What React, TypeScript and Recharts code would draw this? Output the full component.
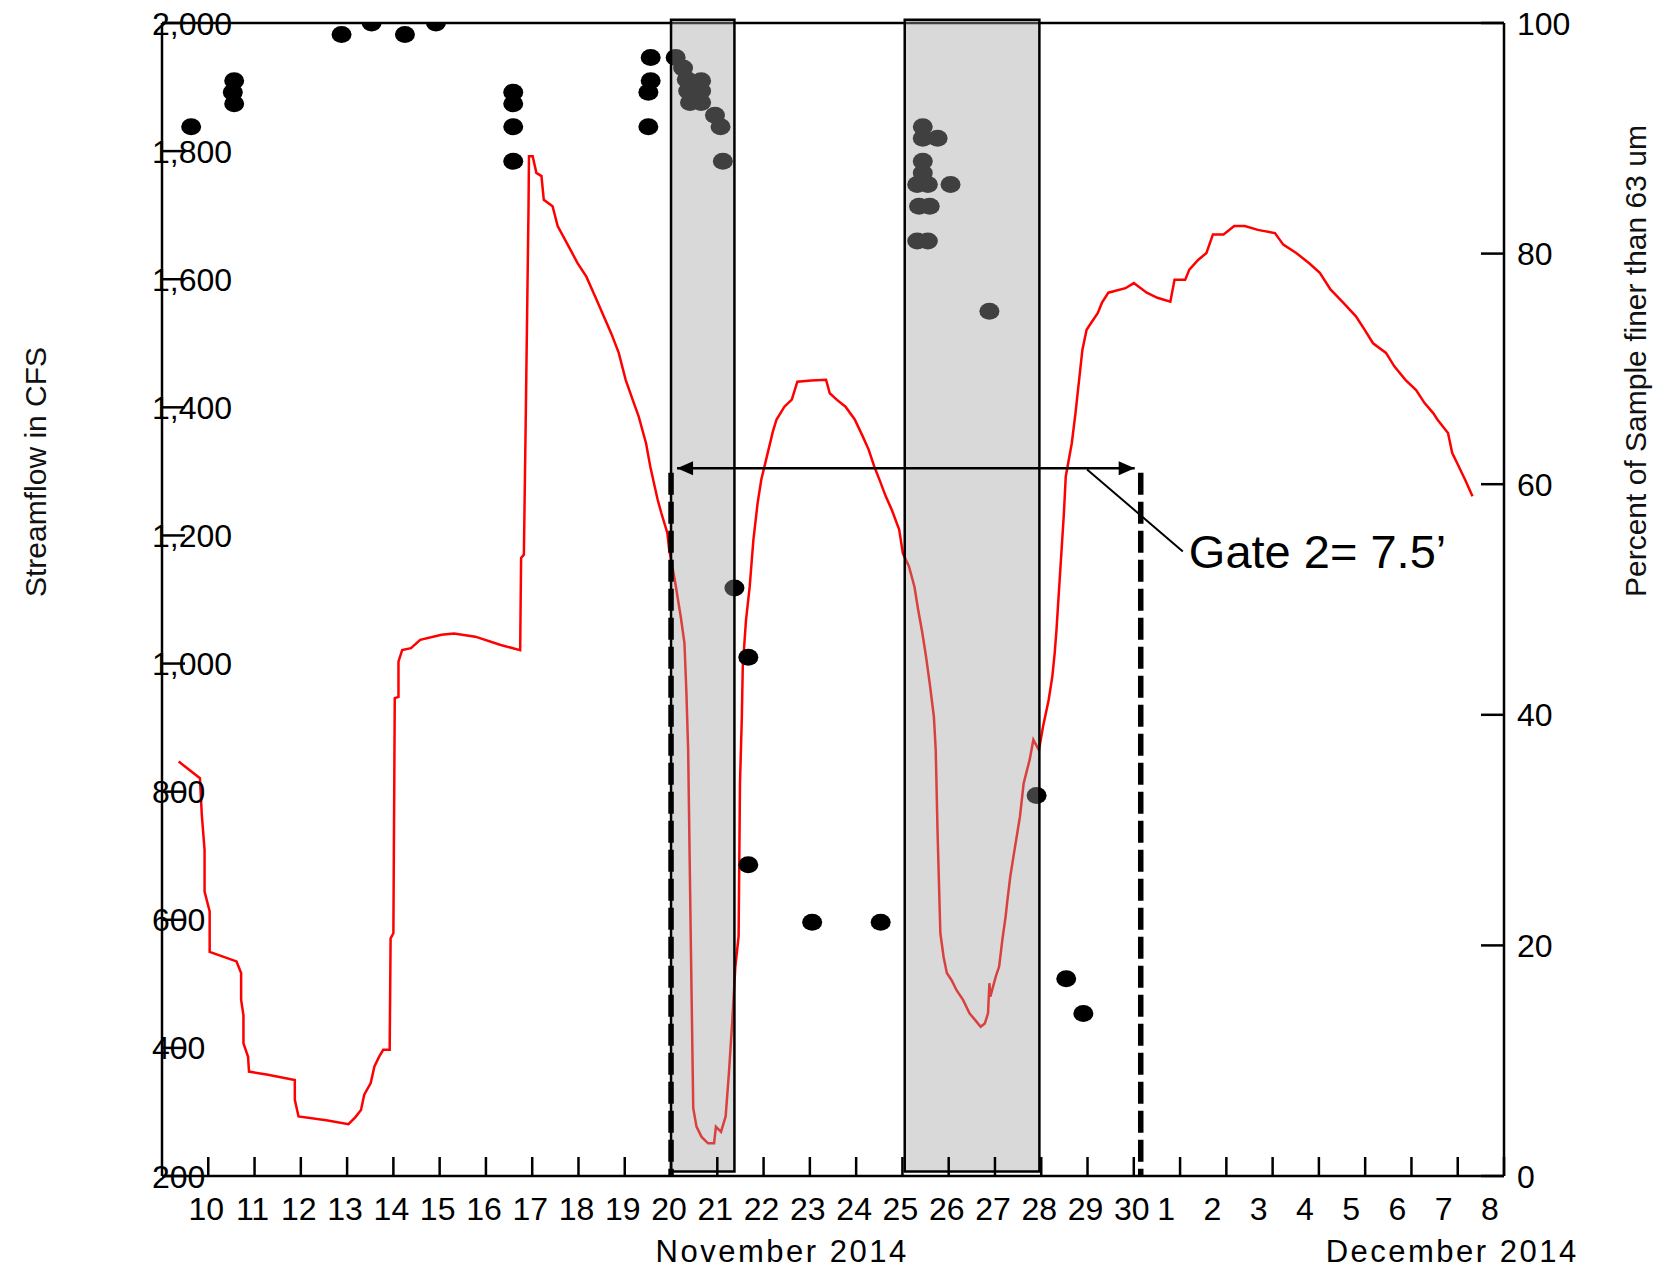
import React from 'react';
import { ComposedChart, Line, Scatter, XAxis, YAxis, ReferenceArea, ReferenceLine, ReferenceDot } from 'recharts';

const FONT = "'Liberation Sans', Arial, sans-serif";

// x values are days counted from Oct 31 (Nov d -> d, Dec d -> 30 + d)
const dayTicks = [10, 11, 12, 13, 14, 15, 16, 17, 18, 19, 20, 21, 22, 23, 24, 25, 26, 27, 28, 29, 30, 31, 32, 33, 34, 35, 36, 37, 38];
const dayLabels = ['10', '11', '12', '13', '14', '15', '16', '17', '18', '19', '20', '21', '22', '23', '24', '25', '26', '27', '28', '29', '30', '1', '2', '3', '4', '5', '6', '7', '8'];
const cfsTicks = [200, 400, 600, 800, 1000, 1200, 1400, 1600, 1800, 2000];
const pctTicks = [0, 20, 40, 60, 80, 100];

const flowDays = [
  9.36, 9.82, 9.86, 9.92, 9.92, 10.03, 10.03, 10.61, 10.71, 10.71, 10.76, 10.76, 10.86, 10.88, 11.29, 11.87, 11.87, 11.95,
  12.55, 13.03, 13.18, 13.3, 13.37, 13.51, 13.59, 13.69, 13.78, 13.92, 13.94, 14.0, 14.03, 14.11, 14.11, 14.19, 14.38, 14.58,
  15.04, 15.31, 15.77, 16.32, 16.74, 16.76, 16.82, 16.86, 16.92, 16.93, 17.01, 17.09, 17.2, 17.25, 17.44, 17.55, 17.79, 17.98,
  18.17, 18.36, 18.56, 18.71, 18.87, 19.02, 19.17, 19.3, 19.46, 19.55, 19.63, 19.71, 19.79, 19.92, 19.96, 20.08, 20.21, 20.29,
  20.33, 20.37, 20.4, 20.43, 20.48, 20.55, 20.66, 20.8, 20.93, 20.97, 21.08, 21.18, 21.25, 21.32, 21.39, 21.46, 21.49, 21.53,
  21.55, 21.62, 21.7, 21.74, 21.78, 21.87, 21.95, 22.07, 22.2, 22.28, 22.45, 22.61, 22.73, 23.03, 23.35, 23.43, 23.58, 23.77,
  23.97, 24.14, 24.27, 24.39, 24.52, 24.64, 24.77, 24.93, 25.01, 25.14, 25.26, 25.34, 25.43, 25.51, 25.59, 25.68, 25.72, 25.76,
  25.82, 25.89, 25.96, 26.06, 26.17, 26.31, 26.45, 26.6, 26.69, 26.78, 26.85, 26.88, 26.9, 27.02, 27.09, 27.16, 27.23, 27.27,
  27.33, 27.4, 27.54, 27.62, 27.75, 27.83, 27.95, 28.04, 28.16, 28.24, 28.29, 28.33, 28.37, 28.43, 28.49, 28.53, 28.66, 28.74,
  28.85, 28.89, 28.98, 29.08, 29.22, 29.31, 29.45, 29.82, 30.0, 30.28, 30.51, 30.79, 30.88, 31.11, 31.2, 31.39, 31.57, 31.71,
  31.94, 32.17, 32.4, 32.68, 33.05, 33.23, 33.51, 33.79, 34.02, 34.25, 34.53, 34.8, 34.99, 35.17, 35.45, 35.63, 35.87, 36.1,
  36.28, 36.47, 36.56, 36.79, 36.88, 37.02, 37.16, 37.29, 37.32,
];
const flowCfs = [
  847, 821, 764, 709, 644, 613, 550, 535, 517, 475, 451, 407, 386, 363, 358, 350, 319, 293,
  287, 281, 292, 303, 327, 345, 371, 386, 397, 397, 571, 579, 946, 948, 1003, 1021, 1024, 1037,
  1045, 1047, 1042, 1029, 1021, 1165, 1170, 1381, 1709, 1792, 1792, 1766, 1761, 1724, 1714, 1683, 1651, 1625,
  1604, 1573, 1540, 1515, 1485, 1443, 1412, 1386, 1344, 1308, 1282, 1256, 1235, 1204, 1178, 1131, 1073, 1032,
  959, 865, 709, 553, 306, 277, 261, 251, 251, 277, 269, 293, 360, 438, 527, 574, 813, 917,
  995, 1068, 1120, 1157, 1193, 1250, 1287, 1323, 1362, 1381, 1401, 1412, 1440, 1442, 1443, 1422, 1412, 1401,
  1381, 1355, 1334, 1308, 1284, 1261, 1240, 1209, 1172, 1152, 1120, 1084, 1048, 1011, 969, 917, 865, 735,
  579, 542, 517, 506, 490, 475, 454, 441, 433, 438, 454, 501, 480, 512, 527, 569, 605, 631,
  667, 699, 761, 813, 850, 881, 865, 902, 943, 980, 1016, 1053, 1099, 1167, 1235, 1292, 1344, 1391,
  1464, 1490, 1521, 1532, 1547, 1563, 1579, 1586, 1594, 1579, 1571, 1565, 1599, 1599, 1615, 1630, 1641, 1670,
  1670, 1683, 1683, 1677, 1672, 1654, 1641, 1625, 1610, 1584, 1563, 1542, 1521, 1500, 1485, 1464, 1443, 1427,
  1407, 1391, 1381, 1360, 1329, 1308, 1287, 1266, 1261,
];

const sampleDays = [
  9.63, 10.56, 10.53, 10.56, 12.88, 13.53, 14.25, 14.92, 16.59, 16.59, 16.59, 16.59,
  19.56, 19.56, 19.51, 19.51, 20.1, 20.26, 20.34, 20.65, 20.37, 20.65, 20.41, 20.65, 20.95, 21.07, 21.12,
  21.37, 21.67, 21.67, 23.05, 24.53,
  25.44, 25.44, 25.76, 25.44, 25.44, 25.32, 25.55, 26.04, 25.36, 25.59, 25.32, 25.55, 26.88,
  27.9, 28.54, 28.91,
];
const samplePct = [
  91, 95, 94, 93, 99, 100, 99, 100, 94, 93, 91, 88,
  97, 95, 94, 91, 97, 96.1, 95.1, 95, 94.1, 94.1, 93.1, 93.1, 92, 91, 88,
  51, 45, 27, 22, 22,
  91, 90, 90, 88, 87, 86, 86, 86, 84.1, 84.1, 81.1, 81.1, 75,
  33, 17.1, 14.1,
];

const shadedStart = [20.0, 25.05];
const shadedEnd = [21.37, 27.96];
const gateDays = [20.0, 30.15];
const gateTop = 1298;
const arrowDays = [20.13, 30.02];
const arrowCfs = 1305;

const flowData = flowDays.map((x, i) => ({ x, cfs: flowCfs[i] }));
const sampleData = sampleDays.map((x, i) => ({ x, pct: samplePct[i] }));

const fmtCfs = (v: number) => (v >= 1000 ? `${Math.floor(v / 1000)},${String(v % 1000).padStart(3, '0')}` : String(v));

function BottomTick({ x, y, payload }: any) {
  const label = dayLabels[dayTicks.indexOf(payload.value)];
  const dx = payload.value > 30 ? -14 : -2;
  return (
    <g>
      <line x1={x} y1={y} x2={x} y2={y - 19} stroke="#000" strokeWidth={2.5} />
      <text x={x + dx} y={y + 44} textAnchor="middle" fontSize={32} fontFamily={FONT} fill="#000">
        {label}
      </text>
    </g>
  );
}

function TopTick({ x, y }: any) {
  return <line x1={x} y1={y} x2={x} y2={y + 19} stroke="#000" strokeWidth={2.5} />;
}

function LeftTick({ x, y, payload }: any) {
  return (
    <g>
      <line x1={x} y1={y} x2={x + 23} y2={y} stroke="#000" strokeWidth={2.5} />
      <text x={x - 10} y={y} dy="0.36em" textAnchor="start" fontSize={32} fontFamily={FONT} fill="#000">
        {fmtCfs(payload.value)}
      </text>
    </g>
  );
}

function RightTick({ x, y, payload }: any) {
  return (
    <g>
      <line x1={x} y1={y} x2={x - 23} y2={y} stroke="#000" strokeWidth={2.5} />
      <text x={x + 13} y={y} dy="0.36em" textAnchor="start" fontSize={32} fontFamily={FONT} fill="#000">
        {payload.value}
      </text>
    </g>
  );
}

const SampleDot = (props: any) => <ellipse cx={props.cx} cy={props.cy} rx={10} ry={8.5} fill="#000" />;

const arrowLeft = (p: any) => (
  <polygon points={`${p.cx},${p.cy} ${p.cx + 16},${p.cy - 7} ${p.cx + 16},${p.cy + 7}`} fill="#000" />
);
const arrowRight = (p: any) => (
  <polygon points={`${p.cx},${p.cy} ${p.cx - 16},${p.cy - 7} ${p.cx - 16},${p.cy + 7}`} fill="#000" />
);

const textShape = (txt: string, dy: number, size: number, anchor: string, spacing = 0) => (p: any) => (
  <text x={p.cx} y={p.cy + dy} textAnchor={anchor} fontSize={size} fontFamily={FONT} fill="#000" letterSpacing={spacing}>
    {txt}
  </text>
);

export default function App() {
  return (
    <div style={{ position: 'absolute', left: 0, top: 0, width: 1669, height: 1272, background: '#fff' }}>
      <ComposedChart width={1669} height={1272} margin={{ top: 22, right: 164, bottom: 95, left: 161 }}>
        <XAxis
          xAxisId="b"
          type="number"
          dataKey="x"
          domain={[9, 38]}
          ticks={dayTicks}
          interval={0}
          height={1}
          tickSize={0}
          tickMargin={0}
          tickLine={false}
          tick={<BottomTick />}
          axisLine={{ stroke: '#000', strokeWidth: 2.5 }}
        />
        <XAxis
          xAxisId="t"
          orientation="top"
          type="number"
          dataKey="x"
          domain={[9, 38]}
          ticks={dayTicks}
          interval={0}
          height={1}
          tickSize={0}
          tickMargin={0}
          tickLine={false}
          tick={<TopTick />}
          axisLine={{ stroke: '#000', strokeWidth: 2.5 }}
        />
        <YAxis
          yAxisId="l"
          type="number"
          domain={[200, 2000]}
          ticks={cfsTicks}
          interval={0}
          width={1}
          tickSize={0}
          tickMargin={0}
          tickLine={false}
          tick={<LeftTick />}
          axisLine={{ stroke: '#000', strokeWidth: 2.5 }}
          label={{
            content: () => (
              <text transform="translate(46,597) rotate(-90)" textAnchor="start" fontSize={30} fontFamily={FONT} fill="#111">
                Streamflow in CFS
              </text>
            ),
          }}
        />
        <YAxis
          yAxisId="r"
          orientation="right"
          type="number"
          dataKey="pct"
          domain={[0, 100]}
          allowDataOverflow
          ticks={pctTicks}
          interval={0}
          width={1}
          tickSize={0}
          tickMargin={0}
          tickLine={false}
          tick={<RightTick />}
          axisLine={{ stroke: '#000', strokeWidth: 2.5 }}
          label={{
            content: () => (
              <text transform="translate(1646,597) rotate(-90)" textAnchor="start" fontSize={30} fontFamily={FONT} fill="#111">
                Percent of Sample finer than 63 um
              </text>
            ),
          }}
        />

        <Line
          xAxisId="b"
          yAxisId="l"
          data={flowData}
          dataKey="cfs"
          type="linear"
          stroke="#ff0000"
          strokeWidth={2.5}
          dot={false}
          isAnimationActive={false}
        />
        <Scatter
          xAxisId="b"
          yAxisId="r"
          data={sampleData}
          dataKey="pct"
          shape={SampleDot}
          isAnimationActive={false}
        />

        {shadedStart.map((s, i) => (
          <ReferenceArea
            key={`area-${i}`}
            xAxisId="b"
            yAxisId="l"
            x1={s}
            x2={shadedEnd[i]}
            y1={207}
            y2={2005}
            ifOverflow="visible"
            fill="#a0a0a0"
            fillOpacity={0.4}
            stroke="#000"
            strokeWidth={2.5}
            zIndex={700}
          />
        ))}

        {gateDays.map((d, i) => (
          <ReferenceLine
            key={`gate-${i}`}
            xAxisId="b"
            yAxisId="l"
            segment={[{ x: d, y: gateTop }, { x: d, y: 200 }]}
            stroke="#000"
            strokeWidth={5.5}
            strokeDasharray="22 7"
            zIndex={800}
          />
        ))}
        <ReferenceLine
          xAxisId="b"
          yAxisId="l"
          segment={[{ x: arrowDays[0], y: arrowCfs }, { x: arrowDays[1], y: arrowCfs }]}
          stroke="#000"
          strokeWidth={2.5}
          zIndex={800}
        />
        <ReferenceLine
          xAxisId="b"
          yAxisId="l"
          segment={[{ x: 28.99, y: 1303 }, { x: 31.06, y: 1175 }]}
          stroke="#000"
          strokeWidth={2}
          zIndex={800}
        />
        <ReferenceDot xAxisId="b" yAxisId="l" x={arrowDays[0]} y={arrowCfs} shape={arrowLeft} zIndex={800} />
        <ReferenceDot xAxisId="b" yAxisId="l" x={arrowDays[1]} y={arrowCfs} shape={arrowRight} zIndex={800} />
        <ReferenceDot xAxisId="b" yAxisId="l" x={31.19} y={1149.5} shape={textShape('Gate 2= 7.5’', 0, 47, 'start')} zIndex={800} />
        <ReferenceDot xAxisId="b" yAxisId="l" x={22.4} y={200} shape={textShape('November 2014', 86, 31, 'middle', 2.5)} zIndex={800} />
        <ReferenceDot xAxisId="b" yAxisId="l" x={36.88} y={200} shape={textShape('December 2014', 86, 31, 'middle', 2.5)} zIndex={800} />
      </ComposedChart>
    </div>
  );
}
